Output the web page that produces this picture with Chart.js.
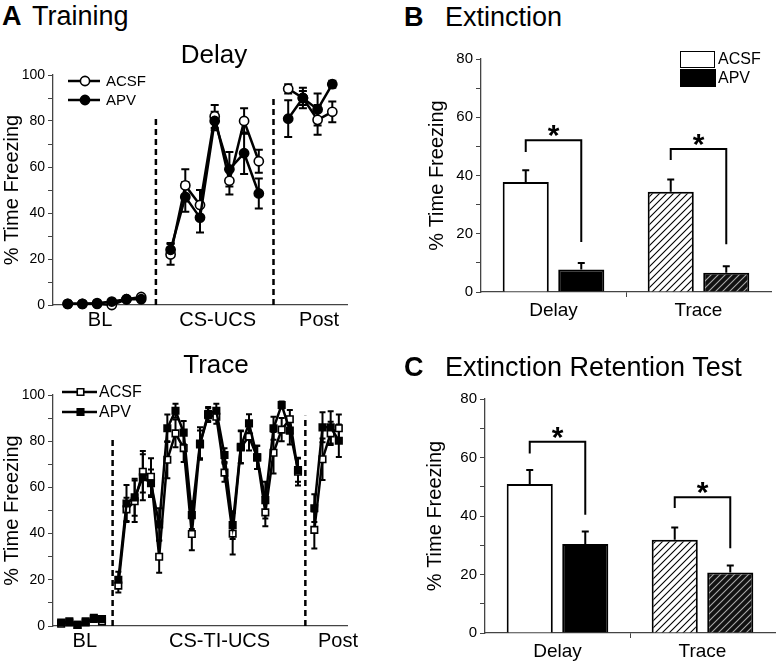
<!DOCTYPE html>
<html><head><meta charset="utf-8">
<script src="https://cdn.jsdelivr.net/npm/chart.js@4.4.0/dist/chart.umd.min.js"></script>
<style>
html,body{margin:0;padding:0;background:#fff;}
body{position:relative;width:778px;height:663px;overflow:hidden;font-family:"Liberation Sans",Arial,sans-serif;color:#000;}
canvas{position:absolute;}
.t{position:absolute;white-space:nowrap;line-height:1;color:#000;}
.c{transform:translateX(-50%);}
</style></head><body>
<canvas id="cDelay" width="390" height="280" style="left:0;top:60px"></canvas>
<canvas id="cTrace" width="390" height="288" style="left:0;top:375px"></canvas>
<canvas id="cExt" width="378" height="290" style="left:400px;top:40px"></canvas>
<canvas id="cRet" width="378" height="293" style="left:400px;top:370px"></canvas>

<div class="t" style="left:2px;top:3px;font-size:27px;font-weight:bold">A</div>
<div class="t" style="left:32px;top:3px;font-size:27px">Training</div>
<div class="t c" style="left:214px;top:41px;font-size:26px">Delay</div>
<div class="t c" style="left:216px;top:351px;font-size:26px">Trace</div>
<div class="t" style="left:404px;top:4px;font-size:27px;font-weight:bold">B</div>
<div class="t" style="left:445px;top:4px;font-size:27px">Extinction</div>
<div class="t" style="left:404px;top:354px;font-size:27px;font-weight:bold">C</div>
<div class="t" style="left:445px;top:354px;font-size:27px">Extinction Retention Test</div>

<div style="position:absolute;left:680px;top:51px;width:33px;height:15px;border:1.5px solid #000;background:#fff"></div>
<div style="position:absolute;left:680px;top:69px;width:36px;height:18px;background:#000"></div>
<div class="t" style="left:718px;top:51px;font-size:16px">ACSF</div>
<div class="t" style="left:718px;top:70px;font-size:16px">APV</div>

<script>
// ---------------- DATA ----------------
const delayPhases = ['BL', 'CS-UCS', 'Post'];
const delayPhasePos = [2.2, 10.2, 17.1];
const delayDividers = [6, 14];
const delayDividerTop = [81, 90];
const delayACSF    = [0.5,0.5,0.5,0,2.5,3.5, null, 22,52,43.5,82,54,80,62.5, null, 94,90,80.5,84];
const delayACSFErr = [0.3,0.3,0.3,0.3,0.5,0.5, null, 4.5,7,6.5,5,6,5.5,5, null, 2,3,6.5,4.5];
const delayAPV     = [0.5,0.5,0.8,1.5,2.5,2.5, null, 24,47,38,80,59,66,48.5, null, 81,90,85,96];
const delayAPVErr  = [0.3,0.3,0.3,0.5,0.5,0.5, null, 3,6.5,6.5,4,7.5,9,6.5, null, 8,4.5,7,1.5];

const tracePhases = ['BL', 'CS-TI-UCS', 'Post'];
const tracePhasePos = [2.9, 19.4, 33.9];
const traceDividers = [6.3, 29.9];
const traceDividerTop = [82, 91];
const traceACSF    = [1,1.5,0.5,1.5,3.5,2, null,
  17.5,50.5,54,66.8,64.6,30,72,83.4,77,39.8,78.6,91.3,90.6,66.4,40,77.3,82,73,49.2,75,85,89.5,66.8,
  null, 41.6,72.2,83.4,85.6];
const traceACSFErr = [0.5,0.5,0.5,0.5,0.8,0.5, null,
  3,5,9,9,8,7,8,6,6,7,6,3,3,4,9,7,6,5,6,9,5,4,6,
  null, 8,9,5,6];
const traceAPV     = [1.5,2,0.5,2,3,3, null,
  20,53,55.7,64.4,61.8,44,85.6,93.2,83.7,48,79,91.8,93.2,74,43.7,77.6,87.7,73,54.5,85.6,95.7,84.6,67.5,
  null, 51,86,86,80.2];
const traceAPVErr  = [0.5,0.5,0.5,0.5,0.8,0.8, null,
  3.5,8,8,10,6,7,6,3,5,6,7,3,3,3,6,7,4,5,8,5,1.5,6,5,
  null, 6,6.5,7,7];

const barGroups = ['Delay', 'Trace'];
const extACSF = [37.8, 34.4];
const extACSFErr = [4.0, 4.2];
const extAPV = [7.7, 6.6];
const extAPVErr = [2.3, 2.2];
const extBracketLeft = [48.1, 45.3];
const extBracketTop = [52.1, 49.1];
const extBracketRight = [17.2, 16.4];

const retACSF = [50.9, 31.9];
const retACSFErr = [4.8, 4.2];
const retAPV = [30.4, 20.7];
const retAPVErr = [4.3, 2.4];
const retBracketLeft = [61.4, 42.7];
const retBracketTop = [65.4, 46.4];
const retBracketRight = [40.4, 29];

// ---------------- SETUP ----------------
Chart.defaults.font.family = '"Liberation Sans", Arial, sans-serif';
Chart.defaults.color = '#000';
const AX = '#444';

function hatch(bg, fg, s, lw){
  const c = document.createElement('canvas'); c.width = s; c.height = s;
  const g = c.getContext('2d');
  g.fillStyle = bg; g.fillRect(0,0,s,s);
  g.strokeStyle = fg; g.lineWidth = lw;
  g.beginPath();
  g.moveTo(0,s); g.lineTo(s,0);
  g.moveTo(-1,1); g.lineTo(1,-1);
  g.moveTo(s-1,s+1); g.lineTo(s+1,s-1);
  g.stroke();
  return g.createPattern(c,'repeat');
}
const hatchLight = hatch('#fff','#000',7,1.1);
const hatchDark = hatch('#111','#aaa',7,1.1);

const errPlugin = {
  id:'errbars',
  beforeDatasetsDraw(chart){ drawErr(chart, true); },
  afterDatasetsDraw(chart){ drawErr(chart, false); }
};
function drawErr(chart, before){
  const ctx = chart.ctx, ys = chart.scales.y;
  const opts = chart.options.plugins.errbars || {};
  if (!!opts.before !== before) return;
  chart.data.datasets.forEach((ds, di) => {
    if (!ds.err) return;
    const meta = chart.getDatasetMeta(di);
    meta.data.forEach((el, i) => {
      const raw = ds.data[i];
      const v = (raw && typeof raw === 'object') ? raw.y : raw;
      const e = ds.err[i];
      if (v == null || e == null) return;
      const x = el.x;
      const yT = ys.getPixelForValue(v + e);
      const yB = opts.both ? ys.getPixelForValue(Math.max(0, v - e)) : ys.getPixelForValue(v);
      const cw = opts.cap || 4;
      ctx.save();
      ctx.strokeStyle = '#000'; ctx.lineWidth = opts.lw || 2;
      ctx.beginPath();
      ctx.moveTo(x, yB); ctx.lineTo(x, yT);
      ctx.moveTo(x - cw, yT); ctx.lineTo(x + cw, yT);
      if (opts.both){ ctx.moveTo(x - cw, yB); ctx.lineTo(x + cw, yB); }
      ctx.stroke();
      ctx.restore();
    });
  });
}

function lineChart(id, o){
  const mk = arr => arr.map((v,i) => ({x:i, y:v}));
  const base = {borderColor:'#000', borderWidth:2.5, pointStyle:o.style, pointRadius:o.r,
    pointBorderColor:'#000', pointBorderWidth:1.6, clip:false, spanGaps:false, tension:0};
  const datasets = [
    Object.assign({label:'APV', data:mk(o.apv), err:o.apvErr, order:0, pointBackgroundColor:'#000'}, base),
    Object.assign({label:'ACSF', data:mk(o.acsf), err:o.acsfErr, order:1, pointBackgroundColor:'#fff'}, base)
  ];
  const deco = {
    id:'deco',
    beforeDatasetsDraw(chart){
      const ctx = chart.ctx, xs = chart.scales.x, ys = chart.scales.y;
      ctx.save();
      ctx.strokeStyle = '#000'; ctx.lineWidth = 2.5; ctx.setLineDash([6,4]);
      o.dividers.forEach((d,k) => {
        const x = xs.getPixelForValue(d);
        ctx.beginPath(); ctx.moveTo(x, ys.getPixelForValue(0)); ctx.lineTo(x, ys.getPixelForValue(o.dividerTop[k])); ctx.stroke();
      });
      ctx.restore();
    },
    afterDatasetsDraw(chart){
      const ctx = chart.ctx, a = chart.chartArea;
      ['ACSF','APV'].forEach((lab,k) => {
        const ds = chart.data.datasets.find(d => d.label === lab);
        const x0 = a.left + o.lg.dx, y = a.top + o.lg.dy + k*o.lg.gap;
        ctx.save();
        ctx.strokeStyle = '#000'; ctx.lineWidth = ds.borderWidth;
        ctx.beginPath(); ctx.moveTo(x0, y); ctx.lineTo(x0 + o.lg.len, y); ctx.stroke();
        ctx.fillStyle = ds.pointBackgroundColor; ctx.strokeStyle = ds.pointBorderColor; ctx.lineWidth = ds.pointBorderWidth;
        Chart.helpers.drawPoint(ctx, {pointStyle:ds.pointStyle, radius:ds.pointRadius, borderWidth:ds.pointBorderWidth, rotation:0}, x0 + o.lg.len/2 + 1, y);
        ctx.fillStyle = '#000'; ctx.font = o.lg.font + 'px "Liberation Sans", Arial, sans-serif';
        ctx.textBaseline = 'middle'; ctx.textAlign = 'left';
        ctx.fillText(lab, x0 + o.lg.len + o.lg.tg, y + 1);
        ctx.restore();
      });
    }
  };
  return new Chart(document.getElementById(id), {
    type:'line',
    data:{datasets},
    plugins:[errPlugin, deco],
    options:{
      responsive:false, animation:false, devicePixelRatio:1,
      layout:{padding:{top:o.pt, right:o.pr, left:0, bottom:0}},
      plugins:{legend:{display:false}, tooltip:{enabled:false}, errbars:{before:true, both:true, cap:o.cap, lw:2}},
      scales:{
        x:{type:'linear', min:-1, max:o.xmax,
          afterBuildTicks:(ax) => { ax.ticks = o.phasePos.map(v => ({value:v})); },
          ticks:{autoSkip:false, maxRotation:0, minRotation:0, font:{size:20}, color:'#000', padding:3,
            callback:(v,i) => o.phases[i]},
          grid:{display:false, drawTicks:false},
          border:{display:true, color:AX, width:1.3},
          afterFit:(ax) => { ax.height = o.xh; }
        },
        y:{min:0, max:100,
          ticks:{stepSize:10, autoSkip:false, font:{size:14}, color:'#000', padding:3,
            callback:v => (v % 20 === 0 ? String(v) : '')},
          grid:{drawOnChartArea:false, drawTicks:true, tickLength:5, color:AX, tickColor:AX},
          border:{display:true, color:AX, width:1.3},
          title:{display:true, text:'% Time Freezing', font:{size:20}, color:'#000', padding:{top:0, bottom:0}},
          afterFit:(ax) => { ax.width = o.yw; }
        }
      }
    }
  });
}

function barChart(id, o){
  const common = {borderColor:'#000', borderWidth:2, borderSkipped:'bottom', categoryPercentage:0.766, barPercentage:0.83};
  const datasets = [
    Object.assign({label:'ACSF', data:o.acsf, err:o.acsfErr, backgroundColor:['#fff', hatchLight]}, common),
    Object.assign({label:'APV', data:o.apv, err:o.apvErr, backgroundColor:['#000', hatchDark]}, common)
  ];
  const brackets = {
    id:'brackets',
    afterDatasetsDraw(chart){
      const ctx = chart.ctx, ys = chart.scales.y;
      const m0 = chart.getDatasetMeta(0), m1 = chart.getDatasetMeta(1);
      o.bl.forEach((_, i) => {
        const xL = m0.data[i].x, xR = m1.data[i].x;
        const yL = ys.getPixelForValue(o.bl[i]), yT = ys.getPixelForValue(o.bt[i]), yR = ys.getPixelForValue(o.br[i]);
        ctx.save();
        ctx.strokeStyle = '#000'; ctx.lineWidth = 2;
        ctx.beginPath(); ctx.moveTo(xL, yL); ctx.lineTo(xL, yT); ctx.lineTo(xR, yT); ctx.lineTo(xR, yR); ctx.stroke();
        ctx.fillStyle = '#000'; ctx.font = 'bold 30px "Liberation Sans", Arial, sans-serif';
        ctx.textAlign = 'center'; ctx.textBaseline = 'alphabetic';
        ctx.fillText('*', (xL + xR)/2, yT + 5);
        ctx.restore();
      });
    }
  };
  return new Chart(document.getElementById(id), {
    type:'bar',
    data:{labels:barGroups, datasets},
    plugins:[errPlugin, brackets],
    options:{
      responsive:false, animation:false, devicePixelRatio:1,
      layout:{padding:{top:o.pt, right:o.pr, left:0, bottom:0}},
      plugins:{legend:{display:false}, tooltip:{enabled:false}, errbars:{before:false, both:false, cap:3.5, lw:2}},
      scales:{
        x:{type:'category', offset:true,
          ticks:{font:{size:19}, color:'#000', padding:2, maxRotation:0},
          grid:{display:true, offset:true, drawOnChartArea:false, drawTicks:true, tickLength:5,
            color:AX, tickColor:(c) => (c.index === 1 ? AX : 'rgba(0,0,0,0)')},
          border:{display:true, color:AX, width:1.3},
          afterFit:(ax) => { ax.height = o.xh; }
        },
        y:{min:0, max:80,
          ticks:{stepSize:10, autoSkip:false, font:{size:15}, color:'#000', padding:3,
            callback:v => (v % 20 === 0 ? String(v) : '')},
          grid:{drawOnChartArea:false, drawTicks:true, tickLength:5, color:AX, tickColor:AX},
          border:{display:true, color:AX, width:1.3},
          title:{display:true, text:'% Time Freezing', font:{size:20}, color:'#000', padding:{top:o.tp, bottom:0}},
          afterFit:(ax) => { ax.width = o.yw; }
        }
      }
    }
  });
}

lineChart('cDelay', {acsf:delayACSF, acsfErr:delayACSFErr, apv:delayAPV, apvErr:delayAPVErr,
  phases:delayPhases, phasePos:delayPhasePos, dividers:delayDividers, dividerTop:delayDividerTop,
  style:'circle', r:4.6, cap:4, xmax:19, pt:15, pr:43, xh:35, yw:53,
  lg:{dx:15, dy:6, gap:19, len:32, tg:6, font:15}});

lineChart('cTrace', {acsf:traceACSF, acsfErr:traceACSFErr, apv:traceAPV, apvErr:traceAPVErr,
  phases:tracePhases, phasePos:tracePhasePos, dividers:traceDividers, dividerTop:traceDividerTop,
  style:'rect', r:4.6, cap:3, xmax:35, pt:20, pr:43, xh:37, yw:53,
  lg:{dx:9, dy:-3, gap:20, len:35, tg:2, font:16}});

barChart('cExt', {acsf:extACSF, acsfErr:extACSFErr, apv:extAPV, apvErr:extAPVErr,
  bl:extBracketLeft, bt:extBracketTop, br:extBracketRight, pt:19, pr:7, xh:38, yw:81, tp:25});

barChart('cRet', {acsf:retACSF, acsfErr:retACSFErr, apv:retAPV, apvErr:retAPVErr,
  bl:retBracketLeft, bt:retBracketTop, br:retBracketRight, pt:29, pr:3, xh:30, yw:85, tp:23});
</script>
</body></html>
